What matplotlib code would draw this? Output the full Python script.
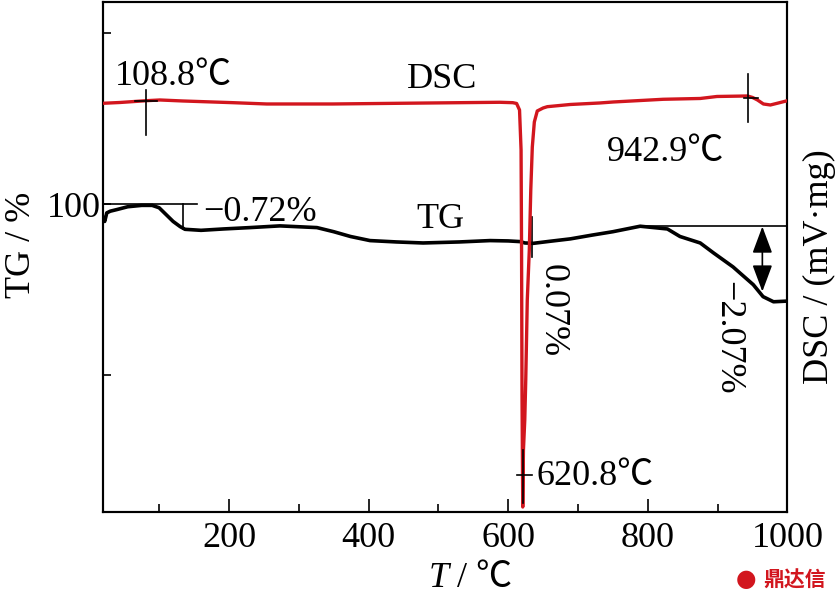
import numpy as np
import matplotlib
matplotlib.use("Agg")
import matplotlib.pyplot as plt

# TG curve (temperature in C, mass in %)
tg_t = [20, 22, 25, 30, 40, 55, 75, 90, 100, 110, 120, 130, 137, 160, 192, 230,
        273, 326, 350, 374, 402, 440, 478, 530, 574, 600, 617, 624, 636, 660, 689,
        720, 750, 789, 828, 846, 875, 894, 922, 932, 951, 965, 980, 1000]
tg_val = [99.6, 99.5, 99.75, 99.8, 99.85, 99.93, 99.97, 99.97, 99.9, 99.7, 99.5,
          99.35, 99.27, 99.24, 99.28, 99.32, 99.37, 99.32, 99.2, 99.06, 98.94, 98.9,
          98.87, 98.9, 98.94, 98.93, 98.91, 98.87, 98.86, 98.92, 98.99, 99.1, 99.2,
          99.36, 99.28, 99.06, 98.87, 98.58, 98.17, 97.99, 97.65, 97.3, 97.15, 97.17]

# DSC curve
dsc_t = [20, 44, 82, 101, 134, 206, 254, 349, 445, 588, 606.6, 612, 616.2, 618.4,
         619.1, 619.8, 620.8, 621.8, 623.7, 625.1, 627.3, 630.2, 632.3, 634.5, 637.4,
         641.6, 650, 656, 689, 731, 750.5, 822, 875, 899, 942.6, 950, 957, 965.5,
         975.5, 987, 1000]
dsc_val = [-0.013, -0.005, 0.013, 0.02, 0.01, -0.007, -0.02, -0.02, -0.013, -0.003,
           -0.007, -0.015, -0.08, -0.48, -1.48, -2.98, -4.05, -3.48, -3.18, -2.78,
           -1.98, -1.48, -0.88, -0.45, -0.2, -0.09, -0.06, -0.047, -0.025, -0.01, 0.0,
           0.027, 0.035, 0.055, 0.06, 0.045, 0.02, -0.02, -0.03, -0.01, 0.013]

x_ticks = [200, 400, 600, 800, 1000]
x_minor = [100, 300, 500, 700, 900]
tg_ticks = [95, 100, 105]
tg_ticklabels = ['', '100', '']

plt.rcParams['font.family'] = ['Liberation Serif', 'Noto Sans CJK SC', 'DejaVu Sans']
plt.rcParams['font.size'] = 26

red = '#d2161e'

fig = plt.figure(figsize=(8.35, 5.98), dpi=100)
ax = fig.add_axes([0.1237, 0.1438, 0.8194, 0.8529])
ax2 = ax.twinx()

ax.plot(tg_t, tg_val, color='black', lw=2.6, zorder=3)
ax2.plot(dsc_t, dsc_val, color=red, lw=2.4, zorder=3)

ax.set_xlim(20, 1000)
ax.set_ylim(91.0, 105.92)
ax2.set_ylim(-4.1, 1.0)

ax.set_xticks(x_ticks)
ax.set_xticks(x_minor, minor=True)
ax.set_yticks(tg_ticks)
ax.set_yticklabels(tg_ticklabels)
ax2.set_yticks([])

ax.tick_params(axis='x', which='major', direction='in', length=9.4, width=1.2, pad=7)
ax.tick_params(axis='x', which='minor', direction='in', length=5.8, width=1.2)
ax.tick_params(axis='y', direction='in', length=6, width=1.2, pad=2)
for a in (ax, ax2):
    for sp in a.spines.values():
        sp.set_linewidth(1.5)

# annotations on DSC
kw = dict(color='black', lw=1.2, zorder=5)
ax2.plot([81, 81], [0.12, -0.33], **kw)
ax2.plot([66, 97], [0.005, 0.005], **kw)
ax2.plot([943, 943], [0.28, -0.2], **kw)
ax2.plot([937, 958], [0.04, 0.04], **kw)
ax2.plot([620.8, 620.8], [-3.48, -4.01], **kw)
ax2.plot([612.5, 634], [-3.73, -3.73], **kw)

# annotations on TG
ax.plot([20, 154], [100.0, 100.0], **kw)
ax.plot([134, 134], [100.0, 99.27], **kw)
ax.plot([634, 634], [99.63, 98.46], **kw)
ax.plot([622, 647], [98.87, 98.87], **kw)
ax.plot([793, 1000], [99.37, 99.37], **kw)
ax.annotate('', xy=(964, 97.45), xytext=(964, 99.35),
            arrowprops=dict(arrowstyle='<|-|>,head_length=0.75,head_width=0.28',
                            mutation_scale=22, color='black', lw=1.2, shrinkA=0, shrinkB=0))

ax2.text(120, 0.26, '108.8℃', ha='center', va='center')
ax2.text(506, 0.22, 'DSC', ha='center', va='center')
ax2.text(825, -0.5, '942.9℃', ha='center', va='center')
ax2.text(725, -3.74, '620.8℃', ha='center', va='center')
ax.text(245, 99.75, '−0.72%', ha='center', va='center')
ax.text(503, 99.55, 'TG', ha='center', va='center')
ax.text(663, 96.89, '0.07%', ha='center', va='center', rotation=-90)
ax.text(915, 96.1, '−2.07%', ha='center', va='center', rotation=-90)

# axis titles
fig.text(0.537, 0.033, 'T', ha='right', va='center', fontstyle='italic')
fig.text(0.537, 0.033, ' / ℃', ha='left', va='center')
fig.text(0.026, 0.59, 'TG / %', ha='center', va='center', rotation=90)
fig.text(0.982, 0.5535, 'DSC / (mV·mg)', ha='center', va='center', rotation=90)

# watermark
fig.text(0.893, 0.032, '●', ha='center', va='center', color=red, fontsize=17,
         family=['DejaVu Sans'])
fig.text(0.952, 0.03, '鼎达信', ha='center', va='center', color=red,
         fontsize=15, fontweight='bold', family=['Noto Sans CJK SC'])

fig.savefig('out.png', dpi=100)
